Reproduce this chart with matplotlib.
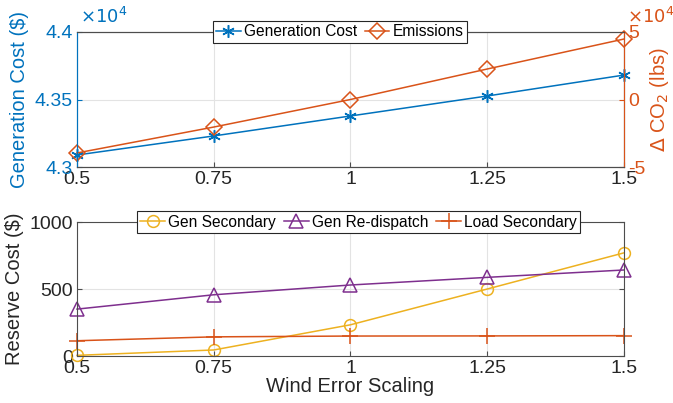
import matplotlib.pyplot as plt
import numpy as np

plt.rcParams['font.family'] = ['Liberation Sans', 'DejaVu Sans']

# data
wind_scale = [0.5, 0.75, 1.0, 1.25, 1.5]
gen_cost = [43089, 43230, 43378, 43526, 43681]          # $
emissions = [-39600, -20400, 0, 22600, 44800]           # lbs
gen_secondary = [5, 45, 233, 500, 770]
gen_redispatch = [350, 457, 530, 587, 642]
load_secondary = [114, 143, 149, 150, 152]

xticks = [0.5, 0.75, 1, 1.25, 1.5]
xticklabels = ['0.5', '0.75', '1', '1.25', '1.5']

blue = '#0072BD'
orange = '#D95319'
yellow = '#EDB120'
purple = '#7E2F8E'
dark = '#262626'
axcol = '#4d4d4d'
gridc = '#e3e3e3'

fig = plt.figure(figsize=(6.73, 4.03), dpi=100)

# ---- top panel ----
ax1 = fig.add_axes([0.1144, 0.5856, 0.8128, 0.335])
ax2 = ax1.twinx()
l1, = ax1.plot(wind_scale, gen_cost, color=blue, lw=1.1, marker=(6, 2, 0),
               ms=9, mew=1.1, label='Generation Cost', clip_on=False)
l2, = ax2.plot(wind_scale, emissions, color=orange, lw=1.1, marker='D',
               ms=8, mfc='none', mew=1.1, label='Emissions', clip_on=False)
ax1.set_xlim(0.5, 1.5)
ax1.set_ylim(43000, 44000)
ax2.set_ylim(-50000, 50000)
ax1.set_xticks(xticks)
ax1.set_xticklabels(xticklabels)
ax1.set_yticks([43000, 43500, 44000])
ax1.set_yticklabels(['4.3', '4.35', '4.4'])
ax2.set_yticks([-50000, 0, 50000])
ax2.set_yticklabels(['-5', '0', '5'])
ax1.grid(True, color=gridc, lw=0.8)
ax1.set_axisbelow(True)
ax1.tick_params(axis='x', direction='in', colors=axcol, labelsize=14, labelcolor=dark, pad=3)
ax1.tick_params(axis='y', direction='in', colors=blue, labelsize=14, pad=3)
ax2.tick_params(axis='y', direction='in', colors=orange, labelsize=14, pad=3)
ax1.spines['left'].set_color(blue)
ax2.spines['left'].set_color(blue)
ax2.spines['right'].set_color(orange)
for ax in (ax1, ax2):
    ax.spines['top'].set_color(axcol)
    ax.spines['bottom'].set_color(axcol)
ax1.set_ylabel('Generation Cost ($)', color=blue, fontsize=14.5, labelpad=4)
ax2.set_ylabel(r'$\Delta$ CO$_2$ (lbs)', color=orange, fontsize=14.5, labelpad=2)
ax1.text(0.005, 1.035, r'$\times10^4$', transform=ax1.transAxes, color=blue,
         fontsize=13, ha='left', va='bottom')
ax1.text(1.005, 1.035, r'$\times10^4$', transform=ax1.transAxes, color=orange,
         fontsize=13, ha='left', va='bottom')
leg = ax2.legend([l1, l2], ['Generation Cost', 'Emissions'], ncol=2, loc='center',
                 bbox_to_anchor=(0.48, 1.0), fontsize=11.2, frameon=True, fancybox=False,
                 handlelength=1.6, handletextpad=0.2, columnspacing=0.5,
                 borderpad=0.2, borderaxespad=0, framealpha=1)
leg.get_frame().set_edgecolor(dark)
leg.get_frame().set_linewidth(0.8)

# ---- bottom panel ----
ax3 = fig.add_axes([0.1144, 0.1166, 0.8128, 0.3325])
ax3.plot(wind_scale, gen_secondary, color=yellow, lw=1.1, marker='o', ms=8.5,
         mfc='none', mew=1.1, label='Gen Secondary', clip_on=False)
ax3.plot(wind_scale, gen_redispatch, color=purple, lw=1.1, marker='^', ms=9.5,
         mfc='none', mew=1.1, label='Gen Re-dispatch', clip_on=False)
ax3.plot(wind_scale, load_secondary, color=orange, lw=1.1, marker='+', ms=12,
         mew=1.1, label='Load Secondary', clip_on=False)
ax3.set_xlim(0.5, 1.5)
ax3.set_ylim(0, 1000)
ax3.set_xticks(xticks)
ax3.set_xticklabels(xticklabels)
ax3.set_yticks([0, 500, 1000])
ax3.grid(True, color=gridc, lw=0.8)
ax3.set_axisbelow(True)
ax3.tick_params(direction='in', colors=axcol, labelcolor=dark, labelsize=14,
                right=True, top=False, pad=3)
for s in ax3.spines.values():
    s.set_color(axcol)
ax3.set_ylabel('Reserve Cost ($)', color=dark, fontsize=14.5, labelpad=4)
ax3.set_xlabel('Wind Error Scaling', color=dark, fontsize=14.5, labelpad=0)
leg2 = ax3.legend(ncol=3, loc='center', bbox_to_anchor=(0.515, 1.0), fontsize=11.2,
                  frameon=True, fancybox=False, handlelength=1.6, handletextpad=0.2,
                  columnspacing=0.5, borderpad=0.2, borderaxespad=0, framealpha=1)
leg2.get_frame().set_edgecolor(dark)
leg2.get_frame().set_linewidth(0.8)

fig.savefig('out.png', dpi=100)
